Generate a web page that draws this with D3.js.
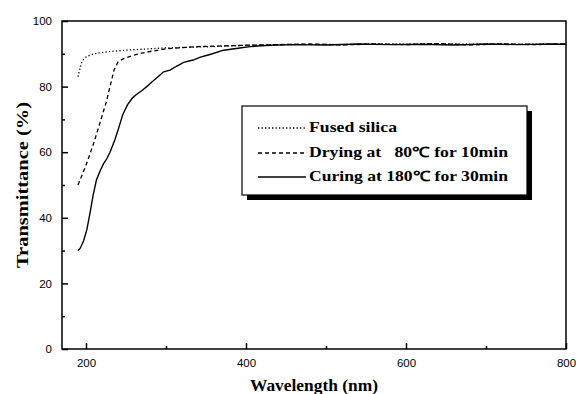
<!DOCTYPE html>
<html><head><meta charset="utf-8">
<script src="https://cdn.jsdelivr.net/npm/d3@7"></script>
<style>body{margin:0;background:#fff}svg{display:block}</style>
</head><body>
<script>
// ---- data ----
const silicaWl  = [190,192,194,196,198,200,205,210,220,230,250,270,300,330,360,400,440,480,520,560,600,640,680,720,760,800];
const silicaVal = [83,85,87,88,88.6,89,89.6,90,90.4,90.7,91.1,91.4,91.8,92.0,92.2,92.6,92.8,92.9,92.8,93.0,92.9,93.1,92.9,93.0,92.9,93.0];

const dryingWl  = [190,195,200,205,210,215,220,225,230,235,240,245,250,260,270,280,300,320,340,370,400,440,480,520,560,600,640,680,720,760,800];
const dryingVal = [50,53,56,59.5,63,67,71,75,80,85,87.5,88.3,88.8,89.6,90.2,90.7,91.5,91.9,92.2,92.4,92.6,92.8,93.0,92.7,93.0,92.8,93.1,92.7,93.0,92.8,93.0];

const curingWl  = [190,193,197,201,205,209,213,218,222,226,230,236,241,246,252,258,263,270,276,282,290,297,305,313,322,334,343,355,372,390,405,430,460,500,540,580,620,660,700,740,780,800];
const curingVal = [30,30.8,33,36.3,41.4,47,51.5,54.5,56.5,58,60,63.7,67.5,71.5,74.5,76.5,77.6,78.8,80,81.3,83,84.5,85,86.2,87.4,88.1,89,89.8,91.1,91.7,92.2,92.6,92.8,92.7,93.0,92.8,92.9,92.7,93.0,92.8,93.0,92.9];

const xTicks = [200,400,600,800];
const yTicks = [0,20,40,60,80,100];
const legendLabels = ["Fused silica","Drying at   80\u2103 for 10min","Curing at 180\u2103 for 30min"];

// ---- layout ----
const W=576,H=394;
const L=62,R=566,T=21,B=349;
const svg=d3.select("body").append("svg").attr("width",W).attr("height",H);
const x=d3.scaleLinear().domain([170,800]).range([L,R]);
const y=d3.scaleLinear().domain([0,100]).range([B,T]);

// frame
svg.append("rect").attr("x",L).attr("y",T).attr("width",R-L).attr("height",B-T)
  .attr("fill","none").attr("stroke","#000").attr("stroke-width",1.5);

// axes (ticks inside)
const tickFont="Liberation Sans, Arial, sans-serif";
const xAx=svg.append("g").attr("transform",`translate(0,${B})`)
  .call(d3.axisBottom(x).tickValues(xTicks).tickSize(-6).tickPadding(10).tickFormat(d3.format("d")));
const xMin=svg.append("g").attr("transform",`translate(0,${B})`)
  .call(d3.axisBottom(x).tickValues([300,500,700]).tickSize(-3).tickFormat(""));
const yAx=svg.append("g").attr("transform",`translate(${L},0)`)
  .call(d3.axisLeft(y).tickValues(yTicks).tickSize(-6).tickPadding(10).tickFormat(d3.format("d")));
const yMin=svg.append("g").attr("transform",`translate(${L},0)`)
  .call(d3.axisLeft(y).tickValues([10,30,50,70,90]).tickSize(-3).tickFormat(""));
[xAx,xMin,yAx,yMin].forEach(g=>{
  g.select(".domain").remove();
  g.selectAll("line").attr("stroke","#000").attr("stroke-width",1.5);
  g.selectAll("text").attr("font-family",tickFont).attr("font-size",11.5).attr("fill","#000");
});
xAx.selectAll("text").attr("dy","0.71em");

// axis titles
const titleFont="Liberation Serif, Times New Roman, serif";
svg.append("text").attr("x",(L+R)/2-64).attr("y",391)
  .attr("font-family",titleFont).attr("font-weight","bold").attr("font-size",16)
  .attr("textLength",128).attr("lengthAdjust","spacingAndGlyphs").text("Wavelength (nm)");
svg.append("text").attr("transform",`translate(28,${(T+B)/2+83}) rotate(-90)`)
  .attr("font-family",titleFont).attr("font-weight","bold").attr("font-size",16)
  .attr("textLength",166).attr("lengthAdjust","spacingAndGlyphs").text("Transmittance (%)");

// lines
const line=d3.line().x(d=>x(d[0])).y(d=>y(d[1])).curve(d3.curveLinear);
const series=[
  {wl:silicaWl,val:silicaVal,dash:"1.3,2.2",w:1.3},
  {wl:dryingWl,val:dryingVal,dash:"4,3",w:1.3},
  {wl:curingWl,val:curingVal,dash:null,w:1.4}
];
series.forEach(s=>{
  const pts=s.wl.map((w,i)=>[w,s.val[i]]);
  svg.append("path").datum(pts).attr("d",line).attr("fill","none").attr("stroke","#000")
    .attr("stroke-width",s.w).attr("stroke-dasharray",s.dash);
});

// legend
const lg={x:242,y:106,w:285,h:89};
svg.append("rect").attr("x",lg.x+5).attr("y",lg.y+5).attr("width",lg.w).attr("height",lg.h).attr("fill","#000");
svg.append("rect").attr("x",lg.x).attr("y",lg.y).attr("width",lg.w).attr("height",lg.h)
  .attr("fill","#fff").attr("stroke","#000").attr("stroke-width",1.2);
const baselines=[132,157,181];
const widths=[88,199,199];
legendLabels.forEach((t,i)=>{
  const s=series[i];
  svg.append("line").attr("x1",258).attr("x2",306).attr("y1",baselines[i]-4).attr("y2",baselines[i]-4)
    .attr("stroke","#000").attr("stroke-width",s.w).attr("stroke-dasharray",s.dash);
  svg.append("text").attr("x",309).attr("y",baselines[i]).attr("font-family",titleFont)
    .attr("font-weight","bold").attr("font-size",14).style("white-space","pre")
    .attr("textLength",widths[i]).attr("lengthAdjust","spacingAndGlyphs").text(t);
});
</script>
</body></html>
